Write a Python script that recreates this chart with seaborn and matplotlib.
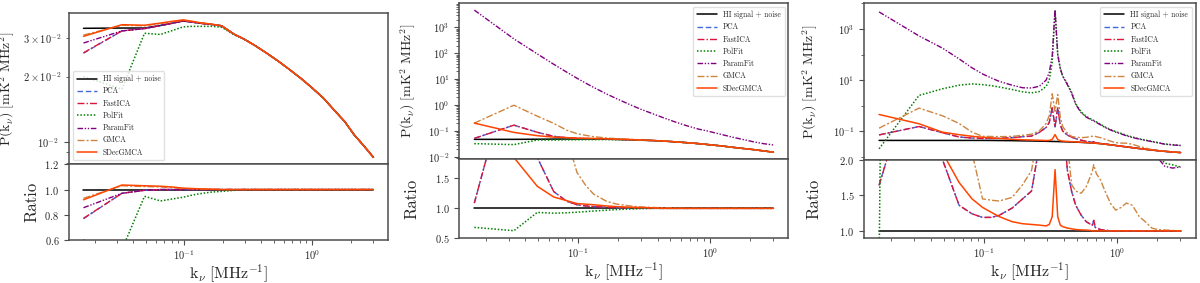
# Power spectra of the recovered HI signal for the three foreground cases,
# each panel with its ratio to the input HI signal + noise underneath.

import matplotlib
matplotlib.use("Agg")
import numpy as np
import seaborn as sns
import matplotlib.pyplot as plt
from matplotlib.ticker import LogLocator, FixedLocator, NullFormatter

# ---- data ---------------------------------------------------------------
labels = ["HI signal + noise", "PCA", "FastICA", "PolFit", "ParamFit", "GMCA", "SDecGMCA"]

# k grid of panels 1 and 2 [MHz^-1]
k_a = [0.0164, 0.0327, 0.0491, 0.0654, 0.0818, 0.0981, 0.1145, 0.1308, 0.1635, 0.1962,
       0.2453, 0.2943, 0.3597, 0.4415, 0.5396, 0.6540, 0.8175, 0.9810, 1.2263, 1.4715,
       1.7985, 2.1255, 2.5343, 3.0084]

# panel 1
p1_hi = [0.0333, 0.0334, 0.0334, 0.0343, 0.0352, 0.0360, 0.0356, 0.0352, 0.0347, 0.0342,
         0.0313, 0.0297, 0.0277, 0.0256, 0.0236, 0.0217, 0.0196, 0.0179, 0.0159, 0.0141,
         0.0124, 0.0108, 0.0096, 0.0085]
p1_pca = [0.0256, 0.0324, 0.0332, 0.0343, 0.0352, 0.0360, 0.0356, 0.0352, 0.0347, 0.0342,
          0.0313, 0.0297, 0.0277, 0.0256, 0.0236, 0.0217, 0.0196, 0.0179, 0.0159, 0.0141,
          0.0124, 0.0108, 0.0096, 0.0085]
p1_fastica = [0.0257, 0.0324, 0.0332, 0.0343, 0.0352, 0.0360, 0.0356, 0.0352, 0.0347, 0.0342,
              0.0313, 0.0297, 0.0277, 0.0256, 0.0236, 0.0217, 0.0196, 0.0179, 0.0159, 0.0141,
              0.0124, 0.0108, 0.0096, 0.0085]
p1_polfit = [0.0200, 0.0175, 0.0316, 0.0312, 0.0326, 0.0338, 0.0340, 0.0340, 0.0340, 0.0337,
             0.0311, 0.0297, 0.0277, 0.0256, 0.0236, 0.0217, 0.0196, 0.0179, 0.0159, 0.0141,
             0.0124, 0.0108, 0.0096, 0.0085]
p1_paramfit = [0.0285, 0.0324, 0.0332, 0.0343, 0.0352, 0.0360, 0.0356, 0.0352, 0.0347, 0.0342,
               0.0313, 0.0297, 0.0277, 0.0256, 0.0236, 0.0217, 0.0196, 0.0179, 0.0159, 0.0141,
               0.0124, 0.0108, 0.0096, 0.0085]
p1_gmca = [0.0310, 0.0344, 0.0342, 0.0350, 0.0357, 0.0363, 0.0358, 0.0353, 0.0348, 0.0342,
           0.0313, 0.0297, 0.0277, 0.0256, 0.0236, 0.0217, 0.0196, 0.0179, 0.0159, 0.0141,
           0.0124, 0.0108, 0.0096, 0.0085]
p1_sdec = [0.0306, 0.0346, 0.0344, 0.0352, 0.0359, 0.0364, 0.0359, 0.0354, 0.0348, 0.0342,
           0.0313, 0.0297, 0.0277, 0.0256, 0.0236, 0.0217, 0.0196, 0.0179, 0.0159, 0.0141,
           0.0124, 0.0108, 0.0096, 0.0085]

# panel 2
p2_hi = [0.0485, 0.0485, 0.0490, 0.0495, 0.0500, 0.0500, 0.0500, 0.0495, 0.0490, 0.0480,
         0.0468, 0.0452, 0.0437, 0.0417, 0.0389, 0.0363, 0.0331, 0.0302, 0.0269, 0.0240,
         0.0214, 0.0195, 0.0174, 0.0155]
p2_pca = [0.0528, 0.171, 0.0907, 0.0634, 0.0560, 0.0530, 0.0520, 0.0510, 0.0500, 0.0485,
          0.0468, 0.0452, 0.0437, 0.0417, 0.0389, 0.0363, 0.0331, 0.0302, 0.0269, 0.0240,
          0.0214, 0.0195, 0.0174, 0.0155]
p2_fastica = [0.0528, 0.171, 0.0907, 0.0634, 0.0560, 0.0530, 0.0520, 0.0510, 0.0500, 0.0485,
              0.0468, 0.0452, 0.0437, 0.0417, 0.0389, 0.0363, 0.0331, 0.0302, 0.0269, 0.0240,
              0.0214, 0.0195, 0.0174, 0.0155]
p2_polfit = [0.0331, 0.0304, 0.0457, 0.0455, 0.0463, 0.0468, 0.0473, 0.0473, 0.0475, 0.0470,
             0.0463, 0.0450, 0.0437, 0.0417, 0.0389, 0.0363, 0.0331, 0.0302, 0.0269, 0.0240,
             0.0214, 0.0195, 0.0174, 0.0155]
p2_paramfit = [4645, 360, 95.5, 38.0, 19.0, 11.0, 7.1, 4.9, 2.75, 1.78,
               1.07, 0.72, 0.49, 0.33, 0.229, 0.166, 0.120, 0.098, 0.074, 0.059,
               0.047, 0.039, 0.033, 0.0295]
p2_gmca = [0.205, 1.0, 0.38, 0.20, 0.11, 0.080, 0.069, 0.0614, 0.0549, 0.0514,
           0.0487, 0.0463, 0.0444, 0.0421, 0.0391, 0.0363, 0.0331, 0.0302, 0.0269, 0.0240,
           0.0214, 0.0195, 0.0174, 0.0155]
p2_sdec = [0.205, 0.0897, 0.0671, 0.0589, 0.0565, 0.0540, 0.0535, 0.0525, 0.0510, 0.0494,
           0.0477, 0.0459, 0.0441, 0.0417, 0.0389, 0.0363, 0.0331, 0.0302, 0.0269, 0.0240,
           0.0214, 0.0195, 0.0174, 0.0155]

# k grid of panel 3 (denser around the 0.34 MHz^-1 feature)
k_b = [0.0164, 0.0327, 0.0491, 0.0654, 0.0818, 0.0981, 0.1145, 0.1308, 0.1635, 0.1962,
       0.2289, 0.2616, 0.2943, 0.3107, 0.3270, 0.3434, 0.3597, 0.3761, 0.3924, 0.4251,
       0.4578, 0.4905, 0.5396, 0.5886, 0.6377, 0.6540, 0.6704, 0.6867, 0.7031, 0.7521,
       0.8175, 0.8993, 0.9810, 1.0791, 1.1772, 1.3080, 1.4715, 1.6350, 1.8312, 2.0438,
       2.2890, 2.6160, 3.0084]

p3_hi = [0.0434, 0.0434, 0.0434, 0.0434, 0.0434, 0.0434, 0.0432, 0.0429, 0.0425, 0.0417,
         0.0412, 0.0407, 0.0401, 0.0398, 0.0396, 0.0394, 0.0391, 0.0389, 0.0386, 0.0380,
         0.0376, 0.0372, 0.0363, 0.0355, 0.0347, 0.0343, 0.0340, 0.0338, 0.0335, 0.0324,
         0.0309, 0.0292, 0.0275, 0.0257, 0.0243, 0.0226, 0.0209, 0.0195, 0.0182, 0.0172,
         0.0162, 0.0153, 0.0145]
p3_pca = [0.0712, 0.152, 0.0868, 0.0590, 0.0538, 0.0516, 0.0514, 0.0523, 0.0561, 0.0605,
          0.0643, 0.0895, 0.140, 0.219, 0.82, 0.145, 0.82, 0.175, 0.100, 0.0703,
          0.0583, 0.0506, 0.0443, 0.0401, 0.0378, 0.0370, 0.0391, 0.0355, 0.0348, 0.0330,
          0.0312, 0.0292, 0.0275, 0.0257, 0.0243, 0.0226, 0.0209, 0.0195, 0.0182, 0.0172,
          0.0162, 0.0153, 0.0145]
p3_fastica = [0.0712, 0.152, 0.0868, 0.0590, 0.0538, 0.0516, 0.0514, 0.0523, 0.0561, 0.0605,
              0.0643, 0.0895, 0.140, 0.219, 0.82, 0.145, 0.82, 0.175, 0.100, 0.0703,
              0.0583, 0.0506, 0.0443, 0.0401, 0.0378, 0.0370, 0.0391, 0.0355, 0.0348, 0.0330,
              0.0312, 0.0292, 0.0275, 0.0257, 0.0243, 0.0226, 0.0209, 0.0195, 0.0182, 0.0172,
              0.0162, 0.0153, 0.0145]
p3_polfit = [0.0204, 2.51, 4.57, 6.31, 7.08, 6.61, 6.03, 5.37, 4.27, 3.47,
             3.16, 3.55, 5.62, 10.0, 50.0, 5500, 100, 28.2, 14.1, 7.08,
             3.24, 1.20, 0.562, 0.380, 0.302, 0.282, 0.263, 0.245, 0.229, 0.186,
             0.145, 0.115, 0.0955, 0.0813, 0.0692, 0.0589, 0.0501, 0.0447, 0.0398, 0.0355,
             0.0316, 0.0295, 0.0275]
p3_paramfit = [4677, 537, 178, 67.6, 30.2, 17.4, 12.0, 8.91, 6.31, 5.01,
               4.90, 5.75, 10.0, 20.0, 89.1, 5500, 100, 28.2, 14.1, 6.61,
               3.02, 1.12, 0.525, 0.355, 0.282, 0.263, 0.251, 0.234, 0.219, 0.178,
               0.138, 0.110, 0.0912, 0.0776, 0.0661, 0.0562, 0.0490, 0.0437, 0.0389, 0.0347,
               0.0309, 0.0288, 0.0275]
p3_gmca = [0.131, 0.80, 0.40, 0.20, 0.0911, 0.0629, 0.0618, 0.0609, 0.0625, 0.0688,
           0.0762, 0.102, 0.20, 0.40, 2.9, 0.60, 2.7, 0.35, 0.15, 0.0836,
           0.0620, 0.0580, 0.0555, 0.0575, 0.0618, 0.0631, 0.0656, 0.0629, 0.0603, 0.0557,
           0.0479, 0.0403, 0.0355, 0.0342, 0.0338, 0.0307, 0.0251, 0.0220, 0.0189, 0.0175,
           0.0164, 0.0154, 0.0145]
p3_sdec = [0.45, 0.195, 0.0911, 0.0729, 0.0629, 0.0577, 0.0544, 0.0515, 0.0480, 0.0459,
           0.0449, 0.0440, 0.0429, 0.0434, 0.0475, 0.0733, 0.0469, 0.0420, 0.0409, 0.0395,
           0.0387, 0.0379, 0.0368, 0.0359, 0.0349, 0.0343, 0.0340, 0.0338, 0.0335, 0.0324,
           0.0309, 0.0292, 0.0275, 0.0257, 0.0243, 0.0226, 0.0209, 0.0195, 0.0182, 0.0172,
           0.0162, 0.0153, 0.0145]

# ---- styling -------------------------------------------------------------
colors = ["black", "royalblue", "crimson", "green", "purple", "peru", "orangered"]
styles = ["-", (0, (4, 2)), (0, (5, 1.5, 1, 1.5)), (0, (1, 1.2)),
          (0, (4, 1.2, 1, 1.2, 1, 1.2)), (0, (5, 1.5, 1.5, 1.5)), "-"]
widths = [1.1, 1.0, 1.0, 1.1, 1.0, 1.0, 1.1]

sns.set_style("ticks")
plt.rcParams.update({
    "font.family": "cmr10",
    "mathtext.fontset": "cm",
    "axes.formatter.use_mathtext": True,
    "axes.edgecolor": "0.3",
    "axes.linewidth": 1.1,
    "xtick.labelsize": 7.5,
    "ytick.labelsize": 7.5,
    "xtick.major.pad": 2.5,
    "xtick.color": "0.3",
    "ytick.color": "0.3",
    "xtick.labelcolor": "0.15",
    "ytick.labelcolor": "0.15",
})

fig = plt.figure(figsize=(12, 2.83), dpi=100)

# lab_x: (P label, Ratio label) right-edge positions in axes coordinates
panels = [
    dict(k=k_a, series=[p1_hi, p1_pca, p1_fastica, p1_polfit, p1_paramfit, p1_gmca, p1_sdec],
         top=[0.0575, 0.4194, 0.2658, 0.5346], bot=[0.0575, 0.1519, 0.2658, 0.2675],
         rlim=(0.6, 1.2), rticks=[0.6, 0.8, 1.0, 1.2], leg="lower left", lab_x=(-0.163, -0.093)),
    dict(k=k_a, series=[p2_hi, p2_pca, p2_fastica, p2_polfit, p2_paramfit, p2_gmca, p2_sdec],
         top=[0.3828, 0.4371, 0.2742, 0.5523], bot=[0.3828, 0.1580, 0.2742, 0.2791],
         rlim=(0.5, 1.82), rticks=[0.5, 1.0, 1.5], leg="upper right", lab_x=(-0.126, -0.122)),
    dict(k=k_b, series=[p3_hi, p3_pca, p3_fastica, p3_polfit, p3_paramfit, p3_gmca, p3_sdec],
         top=[0.7200, 0.4357, 0.2764, 0.5537], bot=[0.7200, 0.1590, 0.2764, 0.2767],
         rlim=(0.9, 2.0), rticks=[1.0, 1.5, 2.0], leg="upper right", lab_x=(-0.132, -0.128)),
]

for i, p in enumerate(panels):
    ax = fig.add_axes(p["top"])
    axr = fig.add_axes(p["bot"], sharex=ax)
    k = np.array(p["k"])
    hi = np.array(p["series"][0])

    for vals, lab, c, ls, lw in zip(p["series"], labels, colors, styles, widths):
        vals = np.array(vals)
        sns.lineplot(x=k, y=vals, color=c, linestyle=ls, lw=lw, label=lab, ax=ax)
        sns.lineplot(x=k, y=vals / hi, color=c, linestyle=ls, lw=lw, legend=False, ax=axr)

    ax.set_xscale("log")
    ax.set_yscale("log")
    ax.tick_params(labelbottom=False)
    ax.set_ylabel(r"$\mathrm{P(k_\nu)\ [mK^2\ MHz^2]}$", fontsize=10)
    ax.yaxis.set_label_coords(p["lab_x"][0], 0.5)

    if i == 1:
        ax.yaxis.set_major_locator(LogLocator(base=10, numticks=12))
    if i == 2:
        ax.yaxis.set_major_locator(FixedLocator([1e-1, 1e1, 1e3]))
        ax.yaxis.set_minor_locator(FixedLocator([1e-2, 1e0, 1e2, 1e4]))
        ax.yaxis.set_minor_formatter(NullFormatter())

    axr.set_ylim(*p["rlim"])
    axr.set_yticks(p["rticks"])
    axr.set_ylabel("Ratio", fontsize=12)
    axr.yaxis.set_label_coords(p["lab_x"][1], 0.5)
    axr.set_xlabel(r"$\mathrm{k_\nu\ [MHz^{-1}]}$", fontsize=11.5, labelpad=0.5)

    ax.legend(loc=p["leg"], fontsize=5.5, handlelength=2.6, labelspacing=0.5,
              borderpad=0.5, framealpha=0.8, edgecolor="0.85")

    for a in (ax, axr):
        for s in a.spines.values():
            s.set_visible(True)

fig.savefig("out.png", dpi=100)
